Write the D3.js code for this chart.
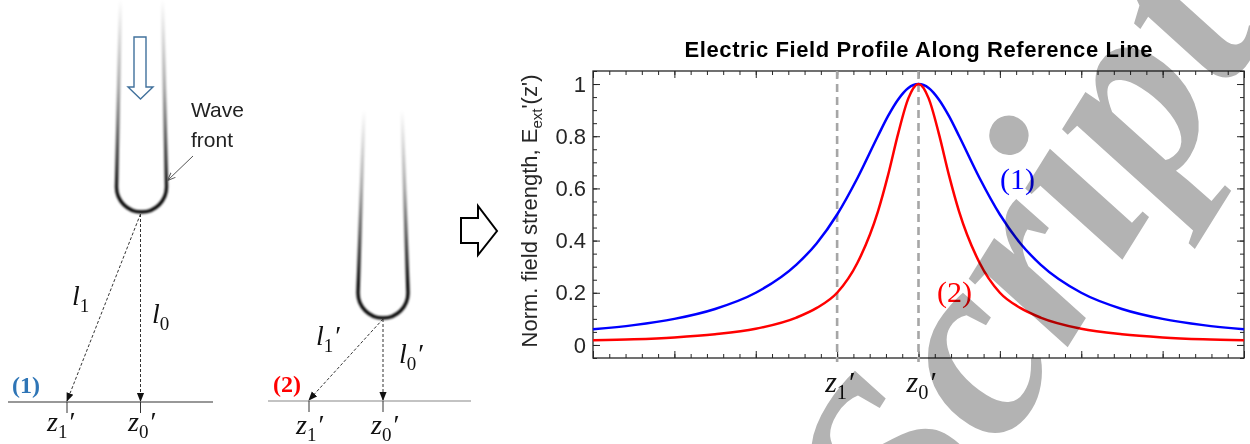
<!DOCTYPE html>
<html>
<head>
<meta charset="utf-8">
<script src="https://d3js.org/d3.v7.min.js"></script>
<style>
  body { margin: 0; background: #fff; }
  text { font-family: "Liberation Sans", Arial, sans-serif; }
</style>
</head>
<body>
<script>
// Positions along the reference line, in units of l0 (z0' = 0, z1' = -1)
var zValues = [-4, -3.5, -3, -2.5, -2, -1.5, -1.25, -1, -0.75, -0.5, -0.375, -0.25, -0.125, 0,
               0.125, 0.25, 0.375, 0.5, 0.75, 1, 1.25, 1.5, 2, 2.5, 3, 3.5, 4];

// normalised field strength, case (1): blunt front
var fieldCase1 = [0.060, 0.076, 0.100, 0.138, 0.200, 0.308, 0.390, 0.500, 0.640, 0.800, 0.877, 0.941, 0.985, 1.000,
                  0.985, 0.941, 0.877, 0.800, 0.640, 0.500, 0.390, 0.308, 0.200, 0.138, 0.100, 0.076, 0.060];

// normalised field strength, case (2): sharp front
var fieldCase2 = [0.018, 0.022, 0.029, 0.041, 0.062, 0.105, 0.142, 0.200, 0.315, 0.510, 0.650, 0.810, 0.945, 1.000,
                  0.945, 0.810, 0.650, 0.510, 0.315, 0.200, 0.142, 0.105, 0.062, 0.041, 0.029, 0.022, 0.018];

var yTickValues = [0, 0.2, 0.4, 0.6, 0.8, 1];
var yTickLabels = ["0", "0.2", "0.4", "0.6", "0.8", "1"];

// dashed reference positions z1' and z0'
var markerPositions = [-1, 0];
var markerSubs = ["1", "0"];

var width = 1250, height = 444;

var svg = d3.select("body").append("svg")
    .attr("width", width)
    .attr("height", height);

var defs = svg.append("defs");

// ****************** left drawings ***************************

// soft edge for the drop outlines
defs.append("filter").attr("id", "soft")
  .append("feGaussianBlur").attr("stdDeviation", 0.8);

function fadeGradient(id, y0, y1) {
  var g = defs.append("linearGradient")
      .attr("id", id)
      .attr("gradientUnits", "userSpaceOnUse")
      .attr("x1", 0).attr("x2", 0)
      .attr("y1", y0).attr("y2", y1);
  g.append("stop").attr("offset", 0).attr("stop-color", "#000").attr("stop-opacity", 0);
  g.append("stop").attr("offset", 0.45).attr("stop-color", "#000").attr("stop-opacity", 0.35);
  g.append("stop").attr("offset", 1).attr("stop-color", "#000").attr("stop-opacity", 1);
}
fadeGradient("fade1", 0, 195);
fadeGradient("fade2", 110, 285);

// small filled arrow head for the dashed distance lines
defs.append("marker")
    .attr("id", "head")
    .attr("viewBox", "0 0 10 10")
    .attr("refX", 9).attr("refY", 5)
    .attr("markerWidth", 9).attr("markerHeight", 9)
    .attr("markerUnits", "userSpaceOnUse")
    .attr("orient", "auto")
  .append("path")
    .attr("d", "M0,1 L10,5 L0,9 Z")
    .attr("fill", "#111");

defs.append("marker")
    .attr("id", "thin")
    .attr("viewBox", "0 0 10 10")
    .attr("refX", 9).attr("refY", 5)
    .attr("markerWidth", 8).attr("markerHeight", 8)
    .attr("markerUnits", "userSpaceOnUse")
    .attr("orient", "auto")
  .append("path")
    .attr("d", "M0,1 L10,5 L0,9")
    .attr("fill", "none")
    .attr("stroke", "#555")
    .attr("stroke-width", 1.2);

function drop(cx, top, bottomY, topHalf, botHalf, grad) {
  var r = botHalf, cy = bottomY - r;
  svg.append("path")
      .attr("d", "M" + (cx - topHalf) + "," + top +
                 " L" + (cx - botHalf) + "," + cy +
                 " A" + r + "," + r + " 0 0 0 " + (cx + botHalf) + "," + cy +
                 " L" + (cx + topHalf) + "," + top)
      .attr("fill", "none")
      .attr("stroke", "url(#" + grad + ")")
      .attr("stroke-width", 3.4)
      .attr("filter", "url(#soft)");
}
drop(141.5, 0, 212, 21, 25, "fade1");
drop(383, 110, 318, 19, 25, "fade2");

// hollow arrow showing propagation
svg.append("path")
    .attr("d", "M134,37 L146,37 L146,87 L153,87 L140.5,99 L128,87 L134,87 Z")
    .attr("fill", "#fff")
    .attr("stroke", "#41719c")
    .attr("stroke-width", 1.4);

svg.append("text").attr("x", 191).attr("y", 117)
    .style("font-size", "21px").style("fill", "#222").text("Wave");
svg.append("text").attr("x", 191).attr("y", 147)
    .style("font-size", "21px").style("fill", "#222").text("front");
svg.append("line")
    .attr("x1", 193).attr("y1", 156).attr("x2", 168).attr("y2", 180)
    .attr("stroke", "#555").attr("stroke-width", 1)
    .attr("marker-end", "url(#thin)");

// reference lines under each drop
function baseLine(x1, x2, y, ticks, col) {
  svg.append("line")
      .attr("x1", x1).attr("x2", x2).attr("y1", y).attr("y2", y)
      .attr("stroke", col).attr("stroke-width", 1.2);
  ticks.forEach(function(t) {
    svg.append("line")
        .attr("x1", t).attr("x2", t).attr("y1", y).attr("y2", y + 11)
        .attr("stroke", "#333").attr("stroke-width", 1);
  });
}
baseLine(8, 213, 402, [67, 140.5], "#333");
baseLine(268, 471, 401, [309, 383], "#888");

function distLine(x1, y1, x2, y2) {
  svg.append("line")
      .attr("x1", x1).attr("y1", y1).attr("x2", x2).attr("y2", y2)
      .attr("stroke", "#333").attr("stroke-width", 1)
      .attr("stroke-dasharray", "3,2")
      .attr("marker-end", "url(#head)");
}
distLine(140.5, 214, 67, 401);
distLine(140.5, 214, 140.5, 401);
distLine(383, 319, 309, 400);
distLine(383, 319, 383, 400);

// italic symbol with upright subscript and optional prime
function mathLabel(x, y, letter, sub, primed, size, col) {
  var t = svg.append("text")
      .attr("x", x).attr("y", y)
      .style("font-family", "'Liberation Serif', serif")
      .style("font-size", size + "px")
      .style("fill", col || "#111");
  t.append("tspan").style("font-style", "italic").text(letter);
  t.append("tspan").attr("dy", size * 0.24).style("font-size", (size * 0.68) + "px").text(sub);
  if (primed) t.append("tspan").attr("dx", 2).attr("dy", -size * 0.24).text("\u2032");
  return t;
}

mathLabel(72, 305, "l", "1", false, 28);
mathLabel(152, 323, "l", "0", false, 28);
mathLabel(47, 431, "z", "1", true, 28);
mathLabel(128, 431, "z", "0", true, 28);

mathLabel(316, 345, "l", "1", true, 28);
mathLabel(399, 363, "l", "0", true, 28);
mathLabel(296, 434, "z", "1", true, 28);
mathLabel(371, 434, "z", "0", true, 28);

svg.append("text").attr("x", 12).attr("y", 393)
    .style("font-family", "'Liberation Serif', serif").style("font-weight", "bold")
    .style("font-size", "24px").style("fill", "#2e75b6").text("(1)");
svg.append("text").attr("x", 273).attr("y", 392)
    .style("font-family", "'Liberation Serif', serif").style("font-weight", "bold")
    .style("font-size", "24px").style("fill", "#ff0000").text("(2)");

// block arrow towards the plot
svg.append("path")
    .attr("d", "M461,218 L478,218 L478,206 L497,231 L478,255 L478,243 L461,243 Z")
    .attr("fill", "#fff").attr("stroke", "#000").attr("stroke-width", 2);

// ****************** plot section ***************************

var plot = {left: 593, top: 71, right: 1244, bottom: 358};

var x = d3.scaleLinear().domain([-4, 4]).range([plot.left, plot.right]);
var y = d3.scaleLinear().domain([-0.05, 1.05]).range([plot.bottom, plot.top]);

var axisColor = "#262626";
var xMajor = d3.range(-4, 4.001, 1),
    xMinor = d3.range(-4, 4.001, 0.2),
    yMinor = d3.range(-0.05, 1.051, 0.05);

function tickGroup(axis, tx, ty) {
  var g = svg.append("g")
      .attr("transform", "translate(" + tx + "," + ty + ")")
      .call(axis);
  g.select(".domain").remove();
  g.selectAll(".tick line").attr("stroke", axisColor);
  return g;
}

// minor ticks on all four sides (pointing inwards)
tickGroup(d3.axisBottom(x).tickValues(xMinor).tickSize(-4).tickFormat(""), 0, plot.bottom);
tickGroup(d3.axisTop(x).tickValues(xMinor).tickSize(-4).tickFormat(""), 0, plot.top);
tickGroup(d3.axisLeft(y).tickValues(yMinor).tickSize(-4).tickFormat(""), plot.left, 0);
tickGroup(d3.axisRight(y).tickValues(yMinor).tickSize(-4).tickFormat(""), plot.right, 0);

// major ticks
tickGroup(d3.axisBottom(x).tickValues(xMajor).tickSize(-7).tickFormat(""), 0, plot.bottom);
tickGroup(d3.axisTop(x).tickValues(xMajor).tickSize(-7).tickFormat(""), 0, plot.top);
tickGroup(d3.axisRight(y).tickValues(yTickValues).tickSize(-7).tickFormat(""), plot.right, 0);

var yAxis = tickGroup(d3.axisLeft(y)
    .tickValues(yTickValues)
    .tickSize(-7)
    .tickPadding(7)
    .tickFormat(function(d, i) { return yTickLabels[i]; }), plot.left, 0);
yAxis.selectAll("text")
    .style("font-family", "'Liberation Sans', Arial, sans-serif")
    .style("font-size", "22px")
    .attr("fill", axisColor);

// box
svg.append("rect")
    .attr("x", plot.left).attr("y", plot.top)
    .attr("width", plot.right - plot.left)
    .attr("height", plot.bottom - plot.top)
    .attr("fill", "none")
    .attr("stroke", axisColor)
    .attr("stroke-width", 1.3);

// dashed markers at z1' and z0'
svg.selectAll("line.marker")
    .data(markerPositions)
  .enter().append("line")
    .attr("class", "marker")
    .attr("x1", function(d) { return x(d); })
    .attr("x2", function(d) { return x(d); })
    .attr("y1", plot.top)
    .attr("y2", plot.bottom + 4)
    .attr("stroke", "#a6a6a6")
    .attr("stroke-width", 2.6)
    .attr("stroke-dasharray", "8,5");

var line = d3.line()
    .x(function(d) { return x(d[0]); })
    .y(function(d) { return y(d[1]); })
    .curve(d3.curveMonotoneX);

[[fieldCase1, "#0000ff"], [fieldCase2, "#ff0000"]].forEach(function(s) {
  svg.append("path")
      .datum(d3.zip(zValues, s[0]))
      .attr("d", line)
      .attr("fill", "none")
      .attr("stroke", s[1])
      .attr("stroke-width", 2.5);
});

// curve labels
svg.append("text").attr("x", 1000).attr("y", 189)
    .style("font-family", "'Liberation Serif', serif").style("font-size", "30px")
    .style("fill", "#0000ff").text("(1)");
svg.append("text").attr("x", 937).attr("y", 302)
    .style("font-family", "'Liberation Serif', serif").style("font-size", "30px")
    .style("fill", "#ff0000").text("(2)");

// z labels under the dashed markers
markerPositions.forEach(function(d, i) {
  mathLabel(x(d) - 12, 392, "z", markerSubs[i], true, 30);
});

// title
svg.append("text")
    .attr("x", (plot.left + plot.right) / 2)
    .attr("y", 57)
    .attr("text-anchor", "middle")
    .attr("textLength", 468)
    .attr("lengthAdjust", "spacing")
    .style("font-weight", "bold")
    .style("font-size", "22px")
    .style("fill", "#000")
    .text("Electric Field Profile Along Reference Line");

// y label
var yLabel = svg.append("text")
    .attr("transform", "translate(537,211) rotate(-90)")
    .attr("text-anchor", "middle")
    .style("font-size", "22px")
    .style("fill", axisColor);
yLabel.append("tspan").text("Norm. field strength, E");
yLabel.append("tspan").attr("dy", 5).style("font-size", "15px").text("ext");
yLabel.append("tspan").attr("dy", -5).text("'(z')");

// ****************** watermark ***************************
svg.append("text")
    .attr("transform", "translate(926,574) rotate(-58)")
    .style("font-family", "'Liberation Serif', serif")
    .style("font-style", "italic")
    .style("font-weight", "bold")
    .style("font-size", "262px")
    .style("fill", "#b3b3b3")
    .style("mix-blend-mode", "multiply")
    .text("Script");
</script>
</body>
</html>
